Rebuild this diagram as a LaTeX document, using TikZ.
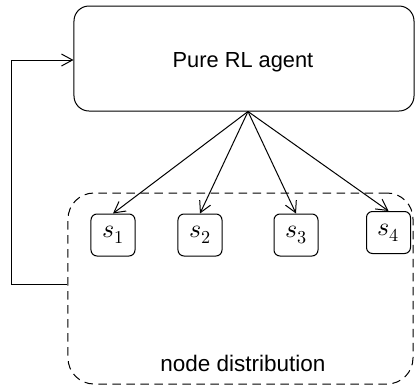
\documentclass[tikz,border=0pt]{standalone}
\usepackage{fontspec}
\setmainfont{Liberation Sans}
\usepackage{unicode-math}
\setmathfont{Latin Modern Math}
\usetikzlibrary{arrows.meta}
\begin{document}
\begin{tikzpicture}[x=1bp,y=-1bp,
  line width=1bp,
  arr/.style={-{Straight Barb[length=11bp,width=12bp,line width=1bp]}},
  agentbox/.style={draw, rounded corners=15bp, minimum width=340bp, minimum height=105bp, inner sep=0pt},
  distbox/.style={draw, dashed, dash pattern=on 8.5bp off 5.5bp, rounded corners=26bp, minimum width=345bp, minimum height=191bp, inner sep=0pt},
  sbox/.style={draw, rounded corners=6bp, minimum width=44bp, minimum height=42bp, inner sep=0pt, font=\fontsize{26bp}{30bp}\selectfont},
  lbl/.style={inner sep=0pt}
]
\useasboundingbox (0,0) rectangle (415,387);
\node[agentbox] (agent) at (244,58.5) {};
\node[lbl, font=\fontsize{21.8bp}{26bp}\selectfont] (agentlabel) at (243,62) {Pure RL agent};
\node[distbox] (dist) at (240.5,288.5) {};
\node[lbl, font=\fontsize{22.5bp}{27bp}\selectfont] (distlabel) at (243,363) {node distribution};
\node[sbox] (s1) at (113,235) {$s_1$};
\node[sbox] (s2) at (200,235) {$s_2$};
\node[sbox] (s3) at (296,235) {$s_3$};
\node[sbox] (s4) at (388.5,232.5) {$s_4$};
\coordinate (apex) at ([xshift=4bp]agent.south);
\foreach \s in {s1,s2,s3,s4} \draw[arr] (apex) -- (\s.north);
\draw[arr] ([yshift=4.5bp]dist.west) -- ++(-56,0) |- ([yshift=-1.5bp]agent.west);
\end{tikzpicture}
\end{document}
